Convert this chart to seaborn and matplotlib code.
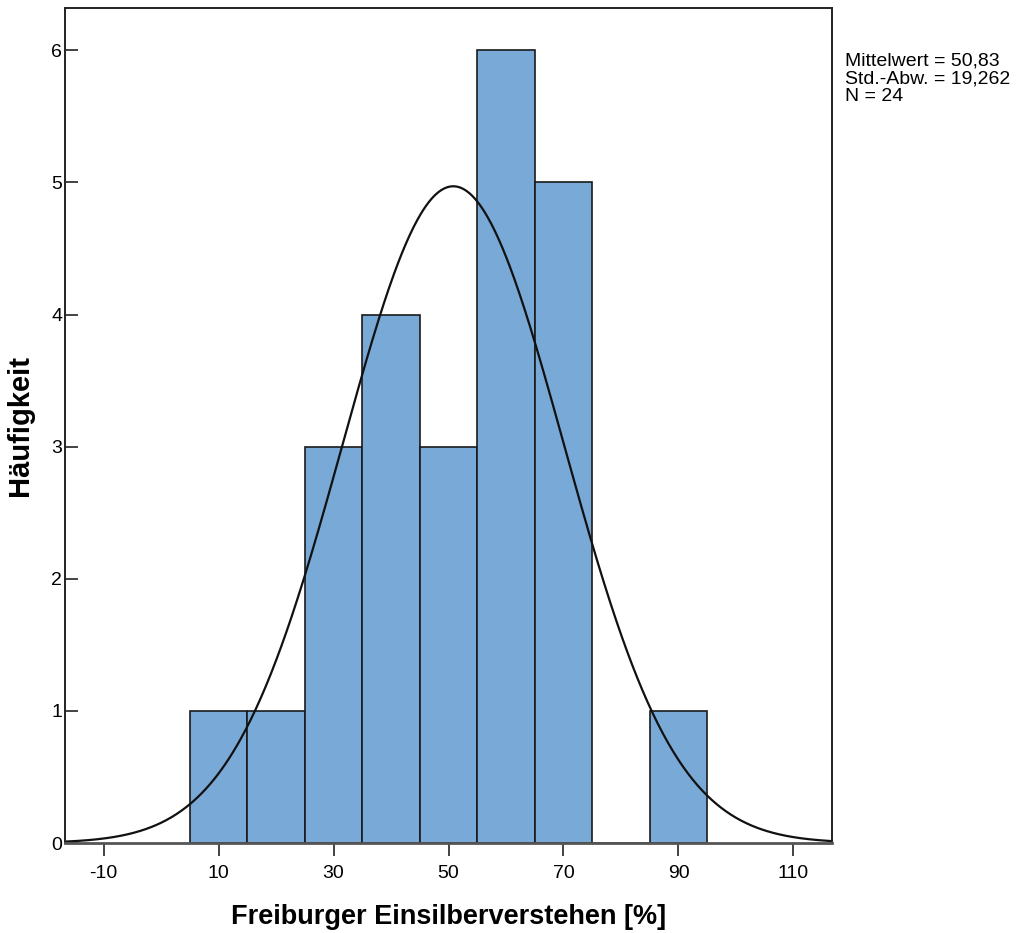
import numpy as np
import pandas as pd
import matplotlib
matplotlib.use("Agg")
import matplotlib.pyplot as plt
import seaborn as sns

# Histogram of speech intelligibility scores (bin width 10)
bin_centers = [10, 20, 30, 40, 50, 60, 70, 80, 90]
counts = [1, 1, 3, 4, 3, 6, 5, 0, 1]
bin_edges = [5, 15, 25, 35, 45, 55, 65, 75, 85, 95]
mean_val = 50.83
std_val = 19.262
n_val = 24
x_ticks = [-10, 10, 30, 50, 70, 90, 110]
y_ticks = [0, 1, 2, 3, 4, 5, 6]

sns.set_theme(style="white")
plt.rcParams["font.family"] = ["Liberation Sans", "DejaVu Sans"]
plt.rcParams.update({"text.color": "black", "axes.labelcolor": "black",
                     "xtick.color": "black", "ytick.color": "black"})

fig = plt.figure(figsize=(10.21, 9.33), dpi=100)
ax = fig.add_axes([65 / 1021, 1 - 843 / 933, (832 - 65) / 1021, (843 - 8) / 933])

df = pd.DataFrame({"score": bin_centers, "n": counts})
sns.histplot(data=df, x="score", weights="n", bins=bin_edges, ax=ax,
             color="#79a9d6", alpha=1.0, edgecolor="#1a1a1a", linewidth=1.2)

# Normal curve scaled to counts
xlim = (-16.7, 116.7)
xs = np.linspace(xlim[0], xlim[1], 600)
bw = bin_edges[1] - bin_edges[0]
ys = n_val * bw / (std_val * np.sqrt(2 * np.pi)) * np.exp(-0.5 * ((xs - mean_val) / std_val) ** 2)
sns.lineplot(x=xs, y=ys, ax=ax, color="#111111", linewidth=1.6)

ax.set_xlim(*xlim)
ax.set_ylim(0, 6.32)
ax.set_xticks(x_ticks)
ax.set_xticklabels([str(t) for t in x_ticks])
ax.set_yticks(y_ticks)
ax.set_yticklabels([str(t) for t in y_ticks])
ax.tick_params(axis="x", direction="out", length=9, width=1.2, color="#222222",
               labelsize=14, pad=7, bottom=True)
ax.tick_params(axis="y", direction="in", length=9, width=1.2, color="#222222",
               labelsize=14, pad=2, left=True)
for s in ax.spines.values():
    s.set_color("#222222")
    s.set_linewidth(1.4)
ax.spines["bottom"].set_color("#555555")
ax.spines["bottom"].set_linewidth(2)

ax.set_xlabel("Freiburger Einsilberverstehen [%]", fontsize=19.5, fontweight="bold")
ax.set_ylabel("Häufigkeit", fontsize=21, fontweight="bold")
ax.xaxis.set_label_coords(0.5, -61 / 835)
ax.yaxis.set_label_coords(-31 / 767, 0.5)

stats_text = "\n".join([
    "Mittelwert = " + f"{mean_val:.2f}".replace(".", ","),
    "Std.-Abw. = " + f"{std_val:.3f}".replace(".", ","),
    f"N = {n_val}",
])
fig.text(845 / 1021, 1 - 53 / 933, stats_text,
         fontsize=14, va="top", ha="left", linespacing=1.05)

fig.savefig("out.png", dpi=100)
